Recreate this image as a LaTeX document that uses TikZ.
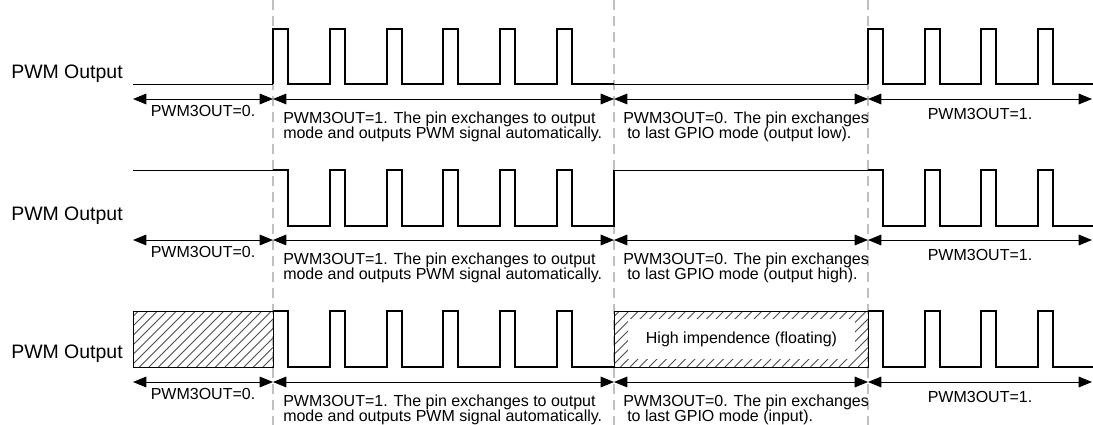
\documentclass[tikz,border=0pt]{standalone}
\usepackage{fontspec}
\setmainfont{Liberation Sans}
\usetikzlibrary{arrows.meta}

\definecolor{guidegray}{RGB}{192,192,192}
\tikzset{
  sig/.style={line width=1.5pt},
  idle/.style={line width=0.75pt},
  span/.style={line width=0.75pt,{Triangle[length=10pt,width=8pt]}-{Triangle[length=10pt,width=8pt]}},
  guide/.style={line width=1.5pt,color=guidegray,dash pattern=on 7.5pt off 4.5pt},
  hatchline/.style={line width=0.6pt,color=black!70},
  lbl/.style={inner sep=0pt,font=\fontsize{12}{14}\selectfont},
  rowlbl/.style={inner sep=0pt,anchor=base west,font=\fontsize{14.6}{17}\selectfont}
}
\newcommand{\hatchbox}[4]{%
  \begin{scope}
    \clip (#1,#2) rectangle (#3,#4);
    \foreach \h in {0,9.5,...,330}
      \draw[hatchline] (#1-60+\h,#4) -- ++(60,-60);
  \end{scope}}

\begin{document}
\begin{tikzpicture}[x=0.75pt,y=-0.75pt]
\useasboundingbox (0,0) rectangle (1093,425);

\foreach \x in {273,614,868}
  \draw[guide] (\x,0) -- (\x,425);

% row labels, spans and their texts
\foreach \r/\ar/\tb/\mode in {1/99/78/output low,2/240/220/output high,3/382/358/input}{
  \node[rowlbl] (row\r) at (11,\tb) {PWM Output};
  \coordinate (a\r0) at (133,\ar);
  \coordinate (a\r1) at (273,\ar);
  \coordinate (a\r2) at (614,\ar);
  \coordinate (a\r3) at (868,\ar);
  \coordinate (a\r4) at (1092,\ar);
  \draw[span] (a\r0) -- (a\r1);
  \draw[span] (a\r1) -- (a\r2);
  \draw[span] (a\r2) -- (a\r3);
  \draw[span] (a\r3) -- (a\r4);
  \node[lbl,anchor=base] (off\r) at (203,\ar+17) {PWM3OUT=0.};
  \node[lbl,anchor=base west] (on\r a) at (283,\ar+24) {PWM3OUT=1. The pin exchanges to output};
  \node[lbl,anchor=base west] (on\r b) at (283,\ar+39) {mode and outputs PWM signal automatically.};
  \node[lbl,anchor=base west] (gpio\r a) at (623,\ar+24) {PWM3OUT=0. The pin exchanges};
  \node[lbl,anchor=base west] (gpio\r b) at (627,\ar+39) {to last GPIO mode (\mode).};
  \node[lbl,anchor=base] (again\r) at (980,\ar+20) {PWM3OUT=1.};
}

% row 1: idle low
\draw[idle] (133,84) -- (273,84);
\draw[sig] (273,84) \foreach \k in {1,...,6}{ -- ++(0,-55) -- ++(15,0) -- ++(0,55) -- ++(41.8,0)};
\draw[idle] (614,84) -- (868,84);
\draw[sig] (868,84) \foreach \k in {1,...,3}{ -- ++(0,-55) -- ++(15,0) -- ++(0,55) -- ++(41.7,0)}
  -- ++(0,-55) -- ++(15,0) -- ++(0,55) -- (1093,84);

% row 2: idle high
\draw[idle] (133,170) -- (273,170);
\draw[sig] (273,170) -- ++(15,0) -- ++(0,56) -- ++(41.8,0)
  \foreach \k in {2,...,6}{ -- ++(0,-56) -- ++(15,0) -- ++(0,56) -- ++(41.8,0)} -- ++(0,-56);
\draw[idle] (614,170) -- (868,170);
\draw[sig] (868,170) -- ++(15,0) -- ++(0,56) -- ++(41.7,0)
  \foreach \k in {2,3}{ -- ++(0,-56) -- ++(15,0) -- ++(0,56) -- ++(41.7,0)}
  -- ++(0,-56) -- ++(15,0) -- ++(0,56) -- (1093,226);

% row 3: floating
\hatchbox{133}{311}{273}{367}
\draw[idle] (133,311) rectangle (273,367);
\draw[sig] (273,311) -- ++(15,0) -- ++(0,56) -- ++(41.8,0)
  \foreach \k in {2,...,6}{ -- ++(0,-56) -- ++(15,0) -- ++(0,56) -- ++(41.8,0)};
\hatchbox{614}{311}{868}{367}
\node[lbl,fill=white,minimum width=170pt,minimum height=30pt] (hiz) at (741.5,339) {High impendence (floating)};
\draw[idle] (614,311) rectangle (868,367);
\draw[sig] (868,311) -- ++(15,0) -- ++(0,56) -- ++(41.7,0)
  \foreach \k in {2,3}{ -- ++(0,-56) -- ++(15,0) -- ++(0,56) -- ++(41.7,0)}
  -- ++(0,-56) -- ++(15,0) -- ++(0,56) -- (1093,367);
\end{tikzpicture}
\end{document}
